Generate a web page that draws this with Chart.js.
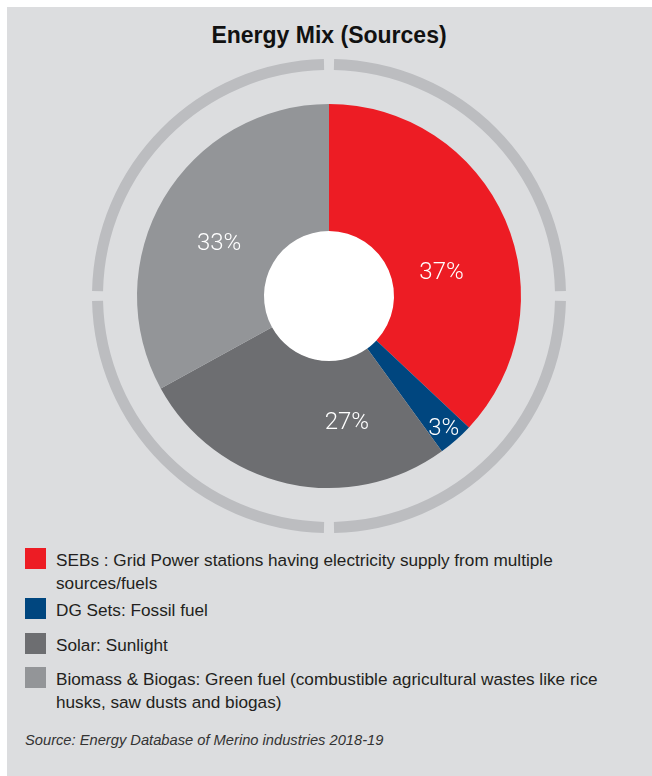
<!DOCTYPE html>
<html>
<head>
<meta charset="utf-8">
<script src="https://cdn.jsdelivr.net/npm/chart.js@4.4.0/dist/chart.umd.min.js"></script>
<style>
    html, body { margin: 0; padding: 0; background: #ffffff; }
    body { width: 652px; height: 776px; position: relative; overflow: hidden; font-family: "Liberation Sans", Arial, sans-serif; }
    #panel { position: absolute; left: 7px; top: 7px; width: 645px; height: 769px; background: #dcdddf; }
    #title { position: absolute; left: 0; top: 0; width: 658px; text-align: center; font-weight: bold; font-size: 23px; line-height: 26px; color: #111; padding-top: 22px; }
    #energyChart { position: absolute; left: 89px; top: 56px; }
    .row { position: absolute; left: 25px; width: 610px; }
    .sw { position: absolute; left: 0; top: 0; width: 21px; height: 21px; }
    .txt { position: absolute; left: 31px; top: 1px; width: 580px; font-size: 17.2px; line-height: 23px; color: #231f20; }
    #source { position: absolute; left: 25px; top: 732px; font-style: italic; font-size: 14.7px; line-height: 17px; color: #333; }
</style>
</head>
<body>
<div id="panel"></div>
<div id="title">Energy Mix (Sources)</div>
<canvas id="energyChart" width="480" height="480"></canvas>
<div id="legend"></div>
<div id="source">Source: Energy Database of Merino industries 2018-19</div>

<script>
// data
const sources = [
    'SEBs : Grid Power stations having electricity supply from multiple sources/fuels',
    'DG Sets: Fossil fuel',
    'Solar: Sunlight',
    'Biomass & Biogas: Green fuel (combustible agricultural wastes like rice husks, saw dusts and biogas)'
];
const shares = [37, 3, 27, 33];
const sourceColors = ['#ed1c24', '#00467f', '#6d6e71', '#939598'];

// decorative outer ring: four quarters with small gaps at top/right/bottom/left
const ringParts = [0.343, 24.314, 0.686, 24.314, 0.686, 24.314, 0.686, 24.314, 0.343];
const ringColors = ['rgba(0,0,0,0)', '#bcbdc0', 'rgba(0,0,0,0)', '#bcbdc0', 'rgba(0,0,0,0)', '#bcbdc0', 'rgba(0,0,0,0)', '#bcbdc0', 'rgba(0,0,0,0)'];

// where each % label sits: fraction along the slice, distance from centre
const labelSpots = [[0.586, 115], [0.54, 175], [0.287, 127], [0.459, 122]];
const legendTops = [548, 598, 633, 667];

// legend
const legend = document.getElementById('legend');
sources.forEach(function (name, i) {
    const row = document.createElement('div');
    row.className = 'row';
    row.style.top = legendTops[i] + 'px';
    row.innerHTML = '<div class="sw" style="background:' + sourceColors[i] + '"></div><div class="txt"></div>';
    row.querySelector('.txt').textContent = name;
    legend.appendChild(row);
});

// white hole in the middle + % labels on the slices
const sliceLabels = {
    id: 'sliceLabels',
    beforeDatasetsDraw(chart) {
        const meta = chart.getDatasetMeta(2);
        const arc = meta.data[0];
        const ctx = chart.ctx;
        ctx.save();
        ctx.fillStyle = '#ffffff';
        ctx.beginPath();
        ctx.arc(arc.x, arc.y, meta.controller.innerRadius + 0.5, 0, Math.PI * 2);
        ctx.fill();
        ctx.restore();
    },
    afterDatasetsDraw(chart) {
        const ctx = chart.ctx;
        const arcs = chart.getDatasetMeta(2).data;
        ctx.save();
        ctx.fillStyle = '#ffffff';
        ctx.font = '300 24px Roboto, "Liberation Sans", sans-serif';
        ctx.textAlign = 'center';
        ctx.textBaseline = 'middle';
        arcs.forEach(function (arc, i) {
            const a = arc.startAngle + (arc.endAngle - arc.startAngle) * labelSpots[i][0];
            const r = labelSpots[i][1];
            ctx.fillText(shares[i] + '%', arc.x + Math.cos(a) * r, arc.y + Math.sin(a) * r + 1);
        });
        ctx.restore();
    }
};

const energyChart = new Chart(document.getElementById('energyChart'), {
    type: 'doughnut',
    data: {
        labels: sources,
        datasets: [
            {
                data: ringParts,
                backgroundColor: ringColors,
                borderWidth: 0,
                weight: 11
            },
            {
                data: [1],
                backgroundColor: ['rgba(0,0,0,0)'],
                borderWidth: 0,
                weight: 34
            },
            {
                label: 'Energy Mix',
                data: shares,
                backgroundColor: sourceColors,
                borderWidth: 0,
                weight: 127
            }
        ]
    },
    options: {
        responsive: false,
        maintainAspectRatio: false,
        animation: false,
        events: [],
        radius: 237,
        cutout: '27.43%',
        layout: { padding: 0 },
        plugins: {
            legend: { display: false },
            tooltip: { enabled: false }
        }
    },
    plugins: [sliceLabels]
});
</script>
</body>
</html>
